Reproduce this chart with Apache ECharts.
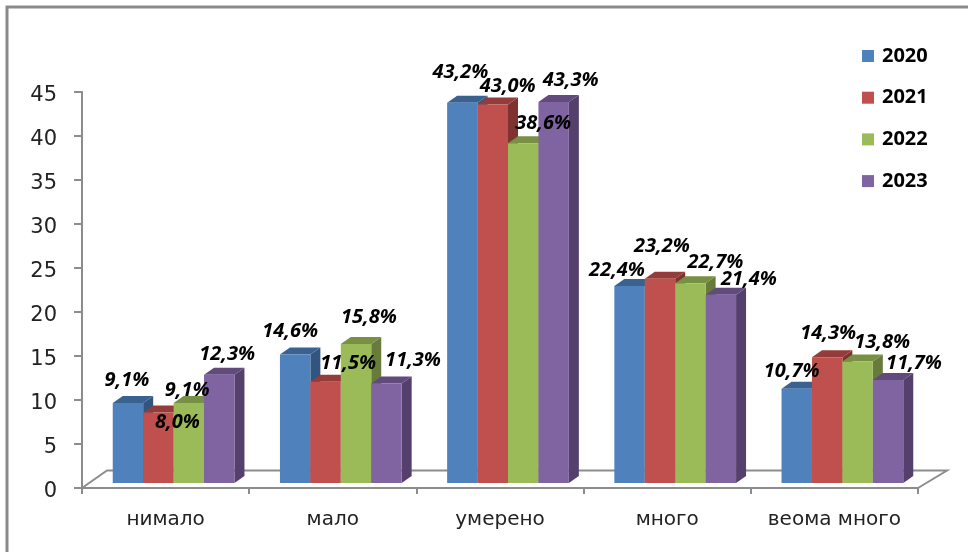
<!DOCTYPE html>
<html><head><meta charset="utf-8">
<style>html,body{margin:0;padding:0;background:#fff}#c{width:968px;height:552px}</style>
<script src="https://cdn.jsdelivr.net/npm/echarts@6/dist/echarts.min.js"></script>
</head><body><div id="c"></div>
<script>
const categories = ['нимало','мало','умерено','много','веома много'];
const years = ['2020','2021','2022','2023'];
const values2020 = [9.1,14.6,43.2,22.4,10.7];
const values2021 = [8.0,11.5,43.0,23.2,14.3];
const values2022 = [9.1,15.8,38.6,22.7,13.8];
const values2023 = [12.3,11.3,43.3,21.4,11.7];
const allValues = [values2020,values2021,values2022,values2023];
const yTicks = {min:0,max:45,interval:5};

// label nudges relative to the top of each bar (as placed in the reference)
const labelShift = [
  [[-1,-23],[-5,-23],[-2,-31],[-12.5,-16],[-5,-18]],
  [[19,10],[22.5,-19],[15,-18],[2,-33],[1,-24]],
  [[-1.6,-13],[13,-27],[20,-20],[25,-20.5],[24.5,-19]],
  [[8,-20],[26.6,-23],[17,-22],[28,-15],[26,-17]]
];
const faces = [
  {front:'#4F81BD',top:'#3A6291',side:'#32557F'},
  {front:'#C0504D',top:'#943C3A',side:'#7F3331'},
  {front:'#9BBB59',top:'#779043',side:'#677C3B'},
  {front:'#8064A2',top:'#614A7C',side:'#553F6C'}
];
const FLOOR_DX=29, FLOOR_DY=17.5, BAR_DX=10, BAR_DY=7, LIFT=5, GROUP_SHIFT=8, BAR_FRAC=0.182;
const GRAY='#8C8C8C';

function barItem(s){
  return function(params, api){
    const i=api.value(0), v=api.value(1);
    const top=api.coord([i,v]), base=api.coord([i,0]);
    const band=api.size([1,0])[0], w=band*BAR_FRAC;
    const x=top[0]+GROUP_SHIFT+(s-2)*w;
    const yT=top[1]-LIFT, yB=base[1]-LIFT;
    const c=faces[s];
    const sh=labelShift[s][params.dataIndex];
    return {type:'group',children:[
      {type:'polygon',shape:{points:[[x+w,yT],[x+w+BAR_DX,yT-BAR_DY],[x+w+BAR_DX,yB-BAR_DY],[x+w,yB]]},style:{fill:c.side}},
      {type:'polygon',shape:{points:[[x,yT],[x+BAR_DX,yT-BAR_DY],[x+w+BAR_DX,yT-BAR_DY],[x+w,yT]]},style:{fill:c.top}},
      {type:'rect',shape:{x:x,y:yT,width:w,height:yB-yT},style:{fill:c.front}},
      {type:'text',z2:100,style:{x:x+w/2+sh[0],y:yT+sh[1],text:v.toFixed(1).replace('.',',')+'%',
        align:'center',verticalAlign:'middle',fontFamily:'Open Sans',fontStyle:'italic',fontWeight:'bold',fontSize:20,fill:'#000'}}
    ]};
  };
}
function floorItem(params, api){
  const p=api.coord([0,0]), band=api.size([1,0])[0];
  const L=p[0]-band/2, R=L+band*categories.length, y=p[1];
  const st={stroke:GRAY,lineWidth:2,fill:null};
  return {type:'group',children:[
    {type:'polyline',shape:{points:[[L,y],[L+FLOOR_DX-4,y-FLOOR_DY],[R+FLOOR_DX,y-FLOOR_DY],[R,y]]},style:st}
  ]};
}
const series=[{type:'custom',name:'floor',silent:true,z:1,clip:false,data:[[0,0]],encode:{x:0,y:1},renderItem:floorItem}];
years.forEach((y,s)=>series.push({type:'custom',name:y,z:2,clip:false,
  itemStyle:{color:faces[s].front},
  data:categories.map((c,i)=>[i,allValues[s][i]]),encode:{x:0,y:1},renderItem:barItem(s)}));

const chart=echarts.init(document.getElementById('c'),null,{renderer:'canvas'});
chart.setOption({
  animation:false,backgroundColor:'#fff',
  grid:{left:82,top:92,width:836,height:396,containLabel:false},
  legend:{orient:'vertical',left:862,top:46,padding:0,icon:'rect',itemWidth:12,itemHeight:12,itemGap:21.7,
    data:years,selectedMode:false,
    textStyle:{fontFamily:'Open Sans',fontWeight:'bold',fontSize:20,color:'#000',lineHeight:20,padding:[0,0,0,3]}},
  xAxis:{type:'category',data:categories,boundaryGap:true,
    axisLine:{lineStyle:{color:GRAY,width:2}},
    axisTick:{show:true,length:6,lineStyle:{color:GRAY,width:2},alignWithLabel:false},
    axisLabel:{interval:0,margin:22,fontFamily:'DejaVu Sans',fontSize:20,color:'#222'},splitLine:{show:false}},
  yAxis:{type:'value',min:yTicks.min,max:yTicks.max,interval:yTicks.interval,
    axisLine:{show:true,lineStyle:{color:GRAY,width:2}},
    axisTick:{show:true,length:8,lineStyle:{color:GRAY,width:2}},
    axisLabel:{margin:25,verticalAlign:'top',lineHeight:8,fontFamily:'DejaVu Sans',fontSize:21,color:'#222'},splitLine:{show:false}},
  graphic:[{type:'polyline',z:0,silent:true,shape:{points:[[7,560],[7,7],[980,7]]},style:{stroke:'#8A8A8A',lineWidth:3,fill:null}}],
  series:series
});
</script></body></html>
